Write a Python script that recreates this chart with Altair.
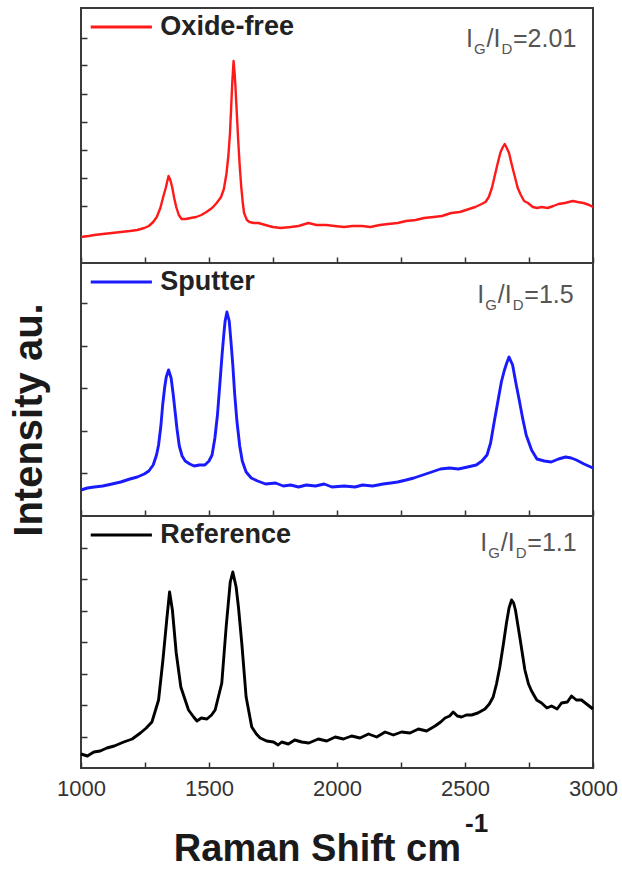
import altair as alt
import pandas as pd

FONT = "Liberation Sans"

# ---------------- data (Raman shift cm^-1, intensity a.u.) -------------
red_wn = [1000, 1030, 1052, 1085, 1121, 1155, 1191, 1220, 1247, 1265, 1282, 1296, 1310, 1321, 1331,
          1342, 1349, 1356, 1364, 1372, 1382, 1393, 1410, 1428, 1450, 1470, 1490, 1512, 1530, 1547,
          1558, 1568, 1576, 1582, 1587, 1591, 1596, 1600, 1603, 1608, 1614, 1620, 1626, 1632, 1637,
          1648, 1658, 1675, 1693, 1720, 1749, 1780, 1819, 1850, 1888, 1920, 1958, 1990, 2028, 2060,
          2098, 2130, 2167, 2200, 2237, 2270, 2307, 2340, 2377, 2410, 2446, 2480, 2516, 2540, 2565,
          2580, 2593, 2605, 2617, 2628, 2639, 2648, 2655, 2663, 2672, 2683, 2694, 2706, 2718, 2731,
          2746, 2765, 2781, 2800, 2823, 2845, 2865, 2890, 2921, 2940, 2963, 2985, 3000]
red_int = [26, 27, 28, 29, 30, 31, 32, 33, 35, 37, 41, 46, 55, 66, 75,
           87, 83, 76, 65, 56, 48, 44, 44, 45, 46, 48, 51, 55, 60, 66,
           74, 89, 108, 130, 158, 181, 202, 190, 178, 153, 123, 97, 76, 60, 50,
           43, 41, 40, 40, 38, 36, 35, 36, 37, 40, 38, 38, 37, 36, 37,
           37, 36, 38, 39, 40, 42, 43, 45, 46, 47, 50, 51, 54, 56, 59,
           61, 66, 75, 88, 100, 111, 116, 119, 115, 110, 98, 87, 75, 68, 62,
           60, 56, 55, 56, 55, 57, 59, 60, 62, 61, 60, 58, 56]

blue_wn = [1000, 1025, 1052, 1085, 1121, 1155, 1191, 1220, 1247, 1265, 1282, 1295, 1303, 1312, 1319,
           1327, 1333, 1342, 1352, 1360, 1366, 1375, 1384, 1395, 1407, 1425, 1442, 1462, 1484, 1500,
           1512, 1523, 1533, 1543, 1551, 1558, 1563, 1570, 1579, 1586, 1593, 1600, 1609, 1620, 1630,
           1645, 1665, 1690, 1721, 1760, 1790, 1819, 1850, 1880, 1916, 1950, 1980, 2028, 2070, 2100,
           2139, 2180, 2210, 2237, 2270, 2300, 2335, 2370, 2404, 2440, 2474, 2510, 2544, 2566, 2586,
           2600, 2614, 2628, 2642, 2653, 2663, 2672, 2686, 2698, 2711, 2725, 2739, 2760, 2781, 2810,
           2837, 2865, 2893, 2915, 2935, 2965, 3000]
blue_int = [26, 28, 29, 30, 32, 34, 37, 39, 42, 45, 51, 61, 71, 90, 111,
            129, 139, 146, 138, 122, 108, 87, 70, 60, 55, 52, 50, 51, 51, 55,
            61, 78, 101, 134, 161, 182, 195, 204, 195, 174, 151, 123, 95, 70, 55,
            44, 38, 35, 32, 33, 30, 31, 29, 31, 30, 32, 29, 30, 29, 31,
            30, 32, 33, 34, 36, 38, 41, 44, 47, 48, 47, 49, 51, 55, 61,
            73, 94, 114, 134, 145, 153, 159, 151, 134, 117, 98, 81, 66, 57, 55,
            54, 57, 59, 58, 56, 52, 48]

black_wn = [1000, 1025, 1050, 1075, 1101, 1130, 1167, 1200, 1232, 1255, 1277, 1303, 1320, 1336, 1346,
            1357, 1372, 1390, 1420, 1440, 1453, 1470, 1492, 1510, 1524, 1550, 1567, 1583, 1593, 1606,
            1615, 1628, 1645, 1667, 1685, 1700, 1725, 1752, 1770, 1784, 1810, 1835, 1862, 1890, 1927,
            1960, 1993, 2025, 2057, 2090, 2123, 2155, 2188, 2220, 2252, 2285, 2318, 2350, 2383, 2405,
            2422, 2440, 2454, 2470, 2487, 2505, 2526, 2550, 2578, 2595, 2610, 2623, 2636, 2650, 2662,
            2672, 2682, 2690, 2697, 2714, 2734, 2748, 2760, 2780, 2799, 2820, 2838, 2860, 2877, 2900,
            2916, 2935, 2955, 2975, 3000]
black_int = [14, 12, 16, 17, 20, 22, 26, 29, 35, 40, 46, 68, 108, 151, 176,
             158, 115, 81, 58, 51, 47, 50, 49, 53, 58, 85, 141, 186, 196, 181,
             161, 125, 71, 41, 34, 30, 27, 26, 23, 26, 24, 28, 26, 25, 29,
             27, 31, 29, 32, 30, 34, 31, 36, 33, 36, 35, 39, 37, 42, 46,
             50, 52, 56, 52, 51, 53, 53, 55, 59, 64, 71, 84, 101, 124, 145,
             160, 168, 165, 158, 131, 98, 84, 77, 68, 65, 60, 62, 59, 65, 66,
             72, 68, 68, 64, 59]

names = ["Oxide-free", "Sputter", "Reference"]
colors = ["#ff1a1a", "#1a1aff", "#000000"]
ratios = ["=2.01", "=1.5", "=1.1"]
ratio_start = [2504, 2548, 2560]          # Raman shift where the I_G/I_D label begins
heights = [255, 253, 252]
y_ticks = [[57.5 + 28 * k for k in range(7)],
           [42.7 + 42.5 * k for k in range(5)],
           [31.5 * k for k in range(1, 8)]]
x_major = list(range(1000, 3001, 500))
x_minor = list(range(1250, 3000, 500))
series = [(red_wn, red_int), (blue_wn, blue_int), (black_wn, black_int)]
legend_line = [1038, 1277]
legend_text_x = 1310

XDOM = alt.Scale(domain=[1000, 3000], nice=False, zero=False)
TICK = dict(grid=False, domain=False, offset=-6, tickSize=6, tickColor="#333333",
            tickWidth=1.5, title=None)


def panel(i):
    wn, inten = series[i]
    h = heights[i]
    bottom = i == 2
    df = pd.DataFrame({"wn": wn, "intensity": inten})
    major_axis = alt.Axis(values=x_major, orient="bottom", labels=bottom, format="d",
                          labelFont=FONT, labelFontSize=22, labelColor="#333333",
                          labelPadding=10, labelFlush=False, labelOverlap=False, **TICK)
    minor_axis = alt.Axis(values=x_minor, orient="bottom", labels=False, **TICK)
    yaxis = alt.Axis(values=y_ticks[i], labels=False, **TICK)
    line = alt.Chart(df).mark_line(color=colors[i], strokeWidth=2.4 if i == 0 else 2.9,
                                   strokeJoin="round").encode(
        x=alt.X("wn:Q", scale=XDOM, axis=major_axis),
        y=alt.Y("intensity:Q", scale=alt.Scale(domain=[0, h], nice=False, zero=False), axis=yaxis),
    )
    leg_df = pd.DataFrame({"wn": [legend_line[0]], "wn2": [legend_line[1]],
                           "tx": [legend_text_x], "name": [names[i]]})
    leg_rule = alt.Chart(leg_df).mark_rule(color=colors[i], strokeWidth=3).encode(
        x=alt.X("wn:Q", scale=XDOM, axis=minor_axis), x2="wn2:Q", y=alt.value(19))
    leg_text = alt.Chart(leg_df).mark_text(align="left", baseline="middle", font=FONT,
                                           fontSize=27, fontWeight="bold", color="#222222").encode(
        x=alt.X("tx:Q", scale=XDOM, axis=None), y=alt.value(19), text="name:N")
    layers = [line, leg_rule, leg_text]
    pieces = [("I", 0, False), ("G", 8, True), ("/I", 20.5, False), ("D", 35.5, True),
              (ratios[i], 47, False)]
    ybase = [39, 40, 35][i]
    for txt, dx, sub in pieces:
        pdf = pd.DataFrame({"wn": [ratio_start[i]], "t": [txt]})
        layers.append(
            alt.Chart(pdf).mark_text(
                align="left", baseline="alphabetic", font=FONT,
                fontSize=15 if sub else 25, color="#555555",
                dx=dx, dy=7 if sub else 0).encode(
                x=alt.X("wn:Q", scale=XDOM, axis=None), y=alt.value(ybase), text="t:N"))
    if i == 1:
        ttl = pd.DataFrame({"t": ["Intensity au."]})
        layers.append(alt.Chart(ttl).mark_text(angle=270, align="center", baseline="middle",
                                               font=FONT, fontSize=40, fontWeight="bold",
                                               color="#1a1a1a").encode(
            x=alt.value(-51), y=alt.value(157), text="t:N"))
    if bottom:
        t1 = pd.DataFrame({"t": ["Raman Shift cm"]})
        t2 = pd.DataFrame({"t": ["-1"]})
        layers.append(alt.Chart(t1).mark_text(align="right", baseline="alphabetic", font=FONT,
                                              fontSize=38, fontWeight="bold",
                                              color="#1a1a1a").encode(
            x=alt.value(380), y=alt.value(345), text="t:N"))
        layers.append(alt.Chart(t2).mark_text(align="left", baseline="alphabetic", font=FONT,
                                              fontSize=26, fontWeight="bold",
                                              color="#1a1a1a").encode(
            x=alt.value(384), y=alt.value(316), text="t:N"))
    return alt.layer(*layers).resolve_axis(x="independent").properties(width=512, height=h)


chart = alt.vconcat(panel(0), panel(1), panel(2), spacing=0, bounds="flush").properties(
    padding={"left": 9, "top": 7, "right": 0, "bottom": 0},
    background="white",
).configure_view(stroke="#3a3a3a", strokeWidth=2).configure_concat(spacing=0)

chart.save("out.html", embed_options={"renderer": "svg", "actions": False})
